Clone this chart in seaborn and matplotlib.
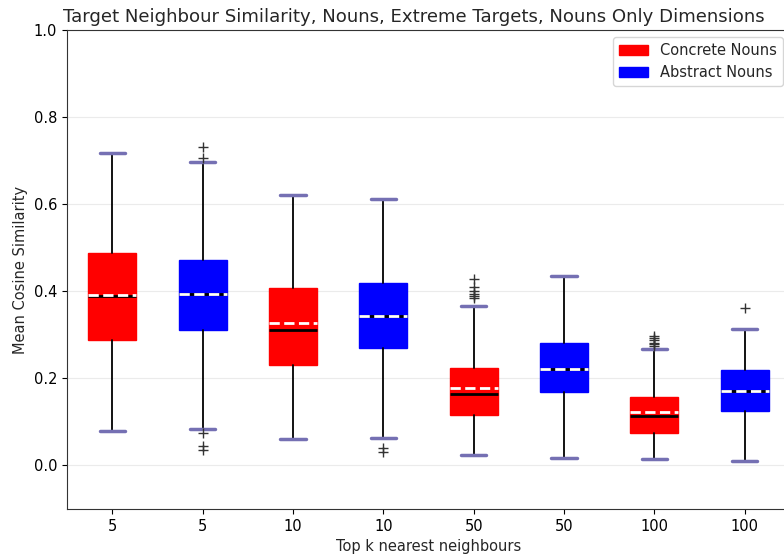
import matplotlib
matplotlib.use("Agg")
import matplotlib.pyplot as plt
import matplotlib.patches as mpatches
import seaborn as sns

# Data
tick_labels = ["5", "5", "10", "10", "50", "50", "100", "100"]
groups = ["Concrete Nouns", "Abstract Nouns", "Concrete Nouns", "Abstract Nouns",
          "Concrete Nouns", "Abstract Nouns", "Concrete Nouns", "Abstract Nouns"]
whislo = [0.080, 0.083, 0.060, 0.063, 0.024, 0.016, 0.014, 0.011]
q1 = [0.287, 0.312, 0.230, 0.269, 0.116, 0.168, 0.075, 0.125]
med = [0.390, 0.393, 0.312, 0.344, 0.164, 0.222, 0.114, 0.170]
mean = [0.392, 0.393, 0.326, 0.343, 0.177, 0.222, 0.122, 0.171]
q3 = [0.488, 0.472, 0.408, 0.419, 0.224, 0.282, 0.158, 0.220]
whishi = [0.718, 0.698, 0.622, 0.612, 0.367, 0.434, 0.267, 0.314]
fliers = [
    [],
    [0.732, 0.705, 0.074, 0.045, 0.036],
    [],
    [0.040, 0.032],
    [0.429, 0.410, 0.400, 0.393, 0.388, 0.385],
    [],
    [0.298, 0.292, 0.287, 0.282, 0.278, 0.275],
    [0.362],
]
palette = {"Concrete Nouns": "#ff0000", "Abstract Nouns": "#0000ff"}

sns.set_style("ticks", {"axes.grid": True, "grid.color": "#ebebeb"})
plt.rcParams["font.family"] = ["DejaVu Sans"]

fig = plt.figure(figsize=(7.84, 5.58), dpi=100)
ax = fig.add_axes([67 / 784, 49 / 558, (790 - 67) / 784, (509 - 30) / 558])

stats = []
for i in range(len(tick_labels)):
    stats.append(dict(label=tick_labels[i], whislo=whislo[i], q1=q1[i], med=med[i],
                      mean=mean[i], q3=q3[i], whishi=whishi[i], fliers=fliers[i]))

bp = ax.bxp(stats, positions=list(range(1, 9)), widths=0.53, patch_artist=True,
            showmeans=True, meanline=True, capwidths=0.28,
            whiskerprops=dict(color="black", linewidth=1.3),
            capprops=dict(color="#7570b3", linewidth=2.5),
            medianprops=dict(color="black", linewidth=2),
            meanprops=dict(color="white", linewidth=2, linestyle="--"),
            flierprops=dict(marker="+", markeredgecolor="#333333", markersize=7,
                            markeredgewidth=1))
for patch, g in zip(bp["boxes"], groups):
    patch.set_facecolor(palette[g])
    patch.set_edgecolor(palette[g])
    patch.set_alpha(1)

ax.set_xlim(0.5, 8.5)
ax.set_ylim(-0.1, 1.0)
ax.set_yticks([0.0, 0.2, 0.4, 0.6, 0.8, 1.0])
ax.xaxis.grid(False)
ax.set_axisbelow(True)
ax.tick_params(labelsize=10.5, colors="black", direction="out")
for s in ax.spines.values():
    s.set_color("#333333")
    s.set_visible(True)

ax.set_title("Target Neighbour Similarity, Nouns, Extreme Targets, Nouns Only Dimensions",
             fontsize=13.1, x=(414 - 67) / 723)
ax.set_xlabel("Top k nearest neighbours", fontsize=10.5)
ax.set_ylabel("Mean Cosine Similarity", fontsize=10.5)

handles = [mpatches.Patch(color=palette[k], label=k) for k in ["Concrete Nouns", "Abstract Nouns"]]
leg = ax.legend(handles=handles, loc="upper right", fontsize=10.5, frameon=True, fancybox=True)
leg.set_bbox_to_anchor((790 / 784, (558 - 30) / 558), transform=fig.transFigure)

fig.savefig("out.png", dpi=100)
